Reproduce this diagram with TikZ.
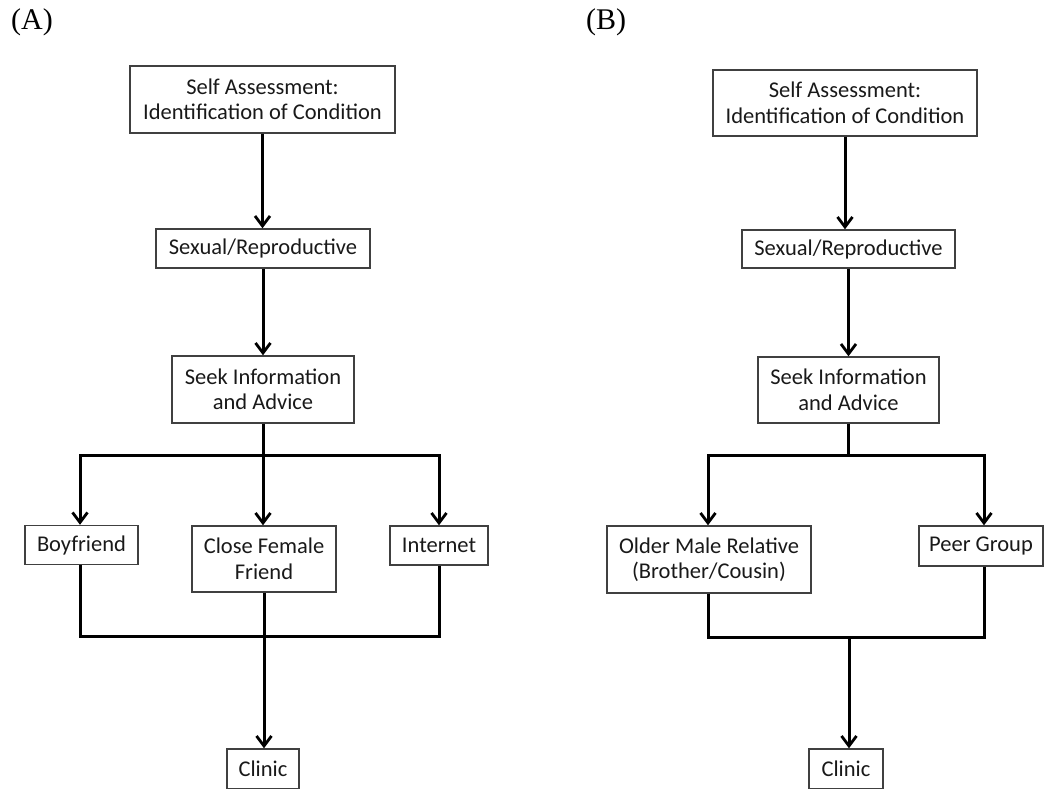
\documentclass[tikz,border=0pt]{standalone}
\usepackage{fontspec}
\setmainfont{Carlito}
\newfontfamily\labelfont{Liberation Serif}
\usetikzlibrary{arrows.meta}
\begin{document}
\begin{tikzpicture}[x=1pt,y=-1pt,
  box/.style={draw=black!75, line width=1.4pt, inner sep=0pt, align=center,
    text=black!90, font=\fontsize{22.5}{25.5}\selectfont},
  conn/.style={line width=3pt, line join=miter, black},
  arr/.style={conn, -{Straight Barb[length=10pt,width=15pt,line width=2.8pt]}},
  panel/.style={font=\labelfont\fontsize{30}{32}\selectfont, anchor=west, inner sep=0pt}]
\useasboundingbox (0,0) rectangle (1045,788);
\clip (0,0) rectangle (1045,788);
% panel labels
\node[panel] (lA) at (11,22) {(A)};
\node[panel] (lB) at (586,22) {(B)};
% ---------- Panel A ----------
\node[box, minimum width=265pt, minimum height=67pt] (a1) at (262.5,99.5) {Self Assessment:\\Identification of Condition};
\node[box, minimum width=214pt, minimum height=39pt] (a2) at (263,248.5) {Sexual/Reproductive};
\node[box, minimum width=182pt, minimum height=67pt] (a3) at (263,389.5) {Seek Information\\and Advice};
\node[box, minimum width=113pt, minimum height=39pt] (a4) at (81.5,545) {Boyfriend};
\node[box, minimum width=144pt, minimum height=66pt] (a5) at (264,559) {Close Female\\Friend};
\node[box, minimum width=98pt, minimum height=39pt] (a6) at (439,545.5) {Internet};
\node[box, minimum width=72pt, minimum height=40pt] (a7) at (263,769) {Clinic};
\coordinate (jA) at (263,455);
\coordinate (mA) at (263,636);
\draw[arr] (a1.south) -- (a1.south |- a2.north);
\draw[arr] (a2.south) -- (a2.south |- a3.north);
\draw[arr] (a3.south) -- (a3.south |- a5.north);
\draw[arr] (jA) -| ([xshift=-1.5pt]a4.north);
\draw[arr] (jA) -| (a6.north);
\draw[conn] ([xshift=-1.5pt]a4.south) |- (mA);
\draw[conn] (a6.south) |- (mA);
\draw[arr] (a5.south) -- (a5.south |- a7.north);
% ---------- Panel B ----------
\node[box, minimum width=264pt, minimum height=66pt] (b1) at (845,103) {Self Assessment:\\Identification of Condition};
\node[box, minimum width=213pt, minimum height=38pt] (b2) at (848.5,249) {Sexual/Reproductive};
\node[box, minimum width=181pt, minimum height=66pt] (b3) at (848.5,390) {Seek Information\\and Advice};
\node[box, minimum width=204pt, minimum height=67pt] (b4) at (709,559.5) {Older Male Relative\\(Brother/Cousin)};
\node[box, minimum width=124pt, minimum height=40pt] (b5) at (981,546) {Peer Group};
\node[box, minimum width=74pt, minimum height=40pt] (b6) at (846,769) {Clinic};
\coordinate (jB) at (848.5,455);
\coordinate (mB) at (849,637);
\draw[arr] (b1.south) -- (b1.south |- b2.north);
\draw[arr] (b2.south) -- (b2.south |- b3.north);
\draw[conn] (b3.south) -- (jB);
\draw[arr] (jB) -| ([xshift=-1pt]b4.north);
\draw[arr] (jB) -| ([xshift=3pt]b5.north);
\draw[conn] ([xshift=-1pt]b4.south) |- (mB);
\draw[conn] ([xshift=3pt]b5.south) |- (mB);
\draw[arr] (mB) -- (mB |- b6.north);
\end{tikzpicture}
\end{document}
